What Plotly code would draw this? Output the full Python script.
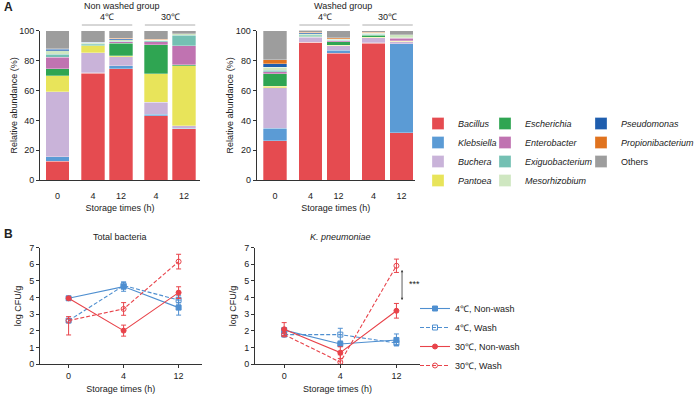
import plotly.graph_objects as go

# ---------------- data ----------------
genera = ["Bacillus", "Klebsiella", "Buchera", "Pantoea", "Escherichia", "Enterobacter",
          "Exiguobacterium", "Mesorhizobium", "Pseudomonas", "Propionibacterium", "Others"]
genus_colors = ["#e54b50", "#5b9bd5", "#c9b3d9", "#e8e45a", "#2fa552", "#c073b1",
                "#74c0b3", "#cfe7c1", "#1f5eae", "#e0731f", "#9d9d9d"]
time_labels = ["0", "4", "12", "4", "12"]
bar_pos = [0, 1.27, 2.27, 3.52, 4.52]

# non washed group (%), order follows `genera`
nw_0h = [12.7, 3.1, 43.2, 10.7, 4.9, 7.4, 2.2, 2.4, 0.9, 0.3, 12.2]
nw_4c_4h = [71.5, 0.3, 13.5, 4.5, 0.4, 0.4, 0.5, 0.8, 0.1, 0.3, 7.7]
nw_4c_12h = [74.6, 1.8, 6.2, 0.7, 8.2, 0.9, 0.5, 0.8, 0.7, 0.5, 5.1]
nw_30c_4h = [43.2, 0.9, 8.0, 18.9, 19.4, 2.0, 0.6, 0.5, 0.2, 0.4, 5.9]
nw_30c_12h = [34.3, 0.3, 1.7, 40.3, 0.4, 12.8, 7.1, 0.9, 0.1, 0.1, 2.0]
# washed group (%)
w_0h = [26.4, 8.4, 27.1, 0.8, 8.5, 1.3, 0.9, 2.2, 2.2, 2.7, 19.5]
w_4c_4h = [92.0, 0.3, 3.3, 0.3, 0.3, 0.3, 0.6, 0.6, 0.8, 0.3, 1.3]
w_4c_12h = [84.9, 1.8, 3.1, 0.4, 2.3, 0.5, 0.5, 0.8, 0.2, 0.8, 4.7]
w_30c_4h = [91.6, 0.3, 3.2, 0.3, 1.5, 0.3, 0.3, 0.8, 0.2, 0.2, 1.3]
w_30c_12h = [31.7, 59.4, 1.4, 0.3, 0.3, 1.6, 0.5, 1.9, 0.1, 0.1, 2.7]

nonwash_bars = [nw_0h, nw_4c_4h, nw_4c_12h, nw_30c_4h, nw_30c_12h]
wash_bars = [w_0h, w_4c_4h, w_4c_12h, w_30c_4h, w_30c_12h]

# panel B, log CFU/g
storage_times = ["0", "4", "12"]
line_x = [0, 1, 2]
series_names = ["4℃, Non-wash", "4℃, Wash", "30℃, Non-wash", "30℃, Wash"]

tb_4_non = [3.96, 4.66, 3.40]
tb_4_non_err = [0.05, 0.28, 0.45]
tb_4_wash = [2.62, 4.72, 3.86]
tb_4_wash_err = [0.08, 0.20, 0.25]
tb_30_non = [3.96, 2.02, 4.30]
tb_30_non_err = [0.05, 0.33, 0.35]
tb_30_wash = [2.62, 3.32, 6.16]
tb_30_wash_err = [0.24, 0.38, 0.44]
tb_30_wash_err_minus = [0.86, 0.38, 0.44]

kp_4_non = [2.05, 1.22, 1.46]
kp_4_non_err = [0.08, 0.10, 0.36]
kp_4_wash = [1.78, 1.78, 1.28]
kp_4_wash_err = [0.08, 0.38, 0.10]
kp_30_non = [2.10, 0.70, 3.21]
kp_30_non_err = [0.40, 0.35, 0.44]
kp_30_wash = [1.78, 0.13, 5.91]
kp_30_wash_err = [0.08, 0.44, 0.40]

BLUE = "#4f8fd0"
RED = "#e8434a"
FONT = "Liberation Sans, Arial, sans-serif"
W, H = 696, 394

def px_x(p):
    return p / W

def px_y(p):
    return 1 - p / H

fig = go.Figure()

# ---------------- panel A bars ----------------
legend_cols = ["legend", "legend", "legend", "legend", "legend2", "legend2", "legend2",
               "legend2", "legend3", "legend3", "legend3"]
for gi, g in enumerate(genera):
    label = g if g == "Others" else f"<i>{g}</i>"
    fig.add_trace(go.Bar(
        x=bar_pos, y=[b[gi] for b in nonwash_bars], name=label, width=0.84,
        marker=dict(color=genus_colors[gi], line=dict(color="white", width=0.3)),
        xaxis="x", yaxis="y", legend=legend_cols[gi], showlegend=True, legendgroup=g))
    fig.add_trace(go.Bar(
        x=bar_pos, y=[b[gi] for b in wash_bars], name=label, width=0.84,
        marker=dict(color=genus_colors[gi], line=dict(color="white", width=0.3)),
        xaxis="x2", yaxis="y2", showlegend=False, legendgroup=g))

# ---------------- panel B lines ----------------
def add_lines(xa, ya, data, show):
    styles = [
        (BLUE, "solid", "square", BLUE),
        (BLUE, "4px,2px", "square-open", BLUE),
        (RED, "solid", "circle", RED),
        (RED, "4px,2px", "circle-open", RED),
    ]
    for (vals, err, errm), name, (col, dash, sym, mcol) in zip(data, series_names, styles):
        fig.add_trace(go.Scatter(
            x=line_x, y=vals, name=name, mode="lines+markers",
            line=dict(color=col, width=1.1, dash=dash),
            marker=dict(symbol=sym, size=5, color=mcol, line=dict(color=col, width=1)),
            error_y=dict(type="data", array=err, arrayminus=errm, color=col,
                         thickness=1, width=2.5),
            xaxis=xa, yaxis=ya, showlegend=show, legend="legend4"))

add_lines("x3", "y3", [
    (tb_4_non, tb_4_non_err, tb_4_non_err),
    (tb_4_wash, tb_4_wash_err, tb_4_wash_err),
    (tb_30_non, tb_30_non_err, tb_30_non_err),
    (tb_30_wash, tb_30_wash_err, tb_30_wash_err_minus),
], False)
add_lines("x4", "y4", [
    (kp_4_non, kp_4_non_err, kp_4_non_err),
    (kp_4_wash, kp_4_wash_err, kp_4_wash_err),
    (kp_30_non, kp_30_non_err, kp_30_non_err),
    (kp_30_wash, kp_30_wash_err, kp_30_wash_err),
], True)

# ---------------- axes ----------------
axis_common = dict(showline=True, linecolor="#333", linewidth=1, showgrid=False,
                   zeroline=False, tickfont=dict(size=9, color="#222", family=FONT),
                   ticks="outside", tickcolor="#333", ticklen=3, automargin=False)
title_font = dict(size=9, color="#222", family=FONT)

yA = dict(range=[0, 100], tickvals=[0, 20, 40, 60, 80, 100], **axis_common)
yA["title"] = dict(text="Relative abundance (%)", font=title_font, standoff=0)
xA_common = dict(tickvals=bar_pos, ticktext=time_labels,
                 **{k: v for k, v in axis_common.items() if k not in ("tickcolor", "ticklen")})
xA_common["tickcolor"] = "rgba(0,0,0,0)"
xA_common["ticklen"] = 7
xA_common["title"] = dict(text="Storage times (h)", font=title_font, standoff=4)

yB = dict(range=[0, 7], tickvals=list(range(8)), **axis_common)
yB["title"] = dict(text="log CFU/g", font=title_font, standoff=6)
xB = dict(range=[-0.52, 2.42], tickvals=line_x, ticktext=storage_times, **axis_common)
xB["title"] = dict(text="Storage times (h)", font=title_font, standoff=6)

yA_top, yA_bot = 30.5, 180.3
yB_top, yB_bot = 247.6, 364.3

fig.update_layout(
    template="none",
    width=W, height=H, margin=dict(l=0, r=0, t=0, b=0, pad=0, autoexpand=False),
    paper_bgcolor="white", plot_bgcolor="white", barmode="stack",
    font=dict(family=FONT, size=9, color="#222"),
    xaxis=dict(domain=[px_x(40), px_x(200)], range=[-0.625, 5.09], anchor="y", **xA_common),
    yaxis=dict(domain=[px_y(yA_bot), px_y(yA_top)], anchor="x", **yA),
    xaxis2=dict(domain=[px_x(256.7), px_x(415)], range=[-0.654, 5.0], anchor="y2", **xA_common),
    yaxis2=dict(domain=[px_y(yA_bot), px_y(yA_top)], anchor="x2", **yA),
    xaxis3=dict(domain=[px_x(40), px_x(201.7)], anchor="y3", **xB),
    yaxis3=dict(domain=[px_y(yB_bot), px_y(yB_top)], anchor="x3", **yB),
    xaxis4=dict(domain=[px_x(255), px_x(420)], anchor="y4", **xB),
    yaxis4=dict(domain=[px_y(yB_bot), px_y(yB_top)], anchor="x4", **yB),
)

leg_common = dict(yanchor="top", xanchor="left", bgcolor="rgba(0,0,0,0)",
                  font=dict(size=9, family=FONT, color="#222"), tracegroupgap=0,
                  itemclick=False, itemdoubleclick=False)
leg_top = px_y(109)
fig.update_layout(
    legend=dict(x=px_x(418), y=leg_top, **leg_common),
    legend2=dict(x=px_x(485), y=leg_top, **leg_common),
    legend3=dict(x=px_x(581), y=leg_top, **leg_common),
    legend4=dict(x=px_x(415), y=px_y(294), **leg_common),
)

# ---------------- annotations / brackets ----------------
ann = []
shapes = []
def txt(x, y, text, xref="paper", yref="paper", size=9, xanchor="center", **kw):
    ann.append(dict(x=x, y=y, xref=xref, yref=yref, text=text, showarrow=False,
                    xanchor=xanchor, yanchor="middle",
                    font=dict(size=size, family=FONT, color="#222"), **kw))

txt(px_x(2), px_y(7), "<b>A</b>", size=12, xanchor="left")
txt(px_x(2), px_y(234), "<b>B</b>", size=12, xanchor="left")

groups = [("x", "Non washed group", px_x(122)), ("x2", "Washed group", px_x(343))]
for xref, title, cx in groups:
    txt(cx, px_y(6), title)
    for (i0, i1, lab) in [(1, 2, "4℃"), (3, 4, "30℃")]:
        x0 = bar_pos[i0] - 0.4
        x1 = bar_pos[i1] + 0.4
        shapes.append(dict(type="line", xref=xref, yref="paper", x0=x0, x1=x1,
                           y0=px_y(25), y1=px_y(25), line=dict(color="#999", width=0.8)))
        txt((x0 + x1) / 2, px_y(16.5), lab, xref=xref)

txt(px_x(120), px_y(237), "Total bacteria")
txt(px_x(340), px_y(237), "<i>K. pneumoniae</i>")

# significance bracket at 12 h, K. pneumoniae
sig_x = line_x[2] + 0.1
sig_top = kp_30_wash[2] - 0.16
sig_bot = kp_30_non[2] + kp_30_non_err[2] + 0.2
ann.append(dict(x=sig_x, y=sig_bot, ax=sig_x, ay=sig_top, xref="x4", yref="y4",
                axref="x4", ayref="y4", text="", showarrow=True, arrowhead=2,
                arrowside="end+start", arrowsize=0.6, arrowwidth=0.8, arrowcolor="#333"))
txt(line_x[2] + 0.32, (sig_top + sig_bot) / 2, "***", xref="x4", yref="y4")

fig.update_layout(annotations=ann, shapes=shapes)

fig.write_html("out.html", config={"displayModeBar": False},
               post_script="document.body.style.margin='0';document.body.style.padding='0';")
